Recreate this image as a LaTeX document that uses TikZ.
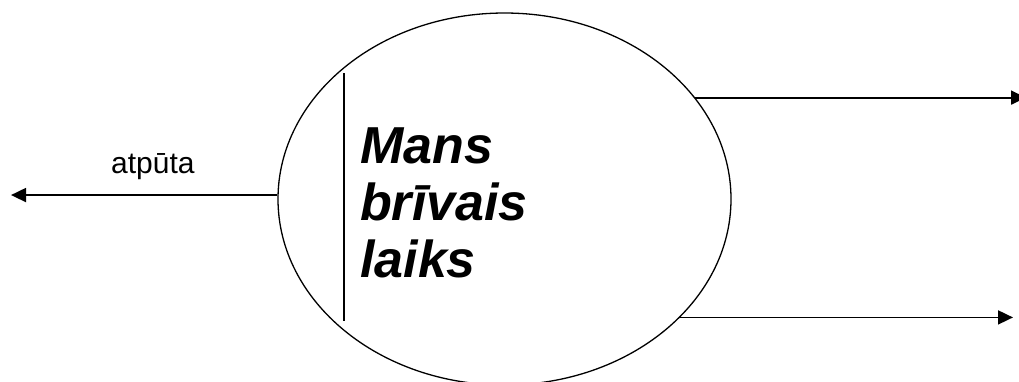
\documentclass[tikz,border=0pt]{standalone}
\usepackage{fontspec}
\setmainfont{Liberation Sans}
\usetikzlibrary{shapes.geometric,arrows.meta}
\tikzset{
  proc/.style={draw=black, line width=1.3pt, ellipse, minimum width=453pt, minimum height=372pt, inner sep=0pt},
  flow/.style={draw=black, line width=1.8pt, -{Triangle[length=15pt,width=14pt]}},
  bigtext/.style={anchor=base west, inner sep=0pt, font=\fontsize{52}{57}\selectfont\bfseries\itshape},
  label/.style={anchor=base west, inner sep=0pt, font=\fontsize{30}{34}\selectfont},
}
\begin{document}
\begin{tikzpicture}[x=1pt,y=-1pt]
\useasboundingbox[fill=white] (0,0) rectangle (1019,381);
\node[proc] (e) at (504.5,199) {};
\coordinate (lt) at (11,195);
\coordinate (rt1) at (1026,97);
\coordinate (rt2) at (1013,319);
\draw[flow] (e.179) -- (e.179 -| lt);
\draw[flow] (e.28.3) -- (e.28.3 -| rt1);
\draw[flow] (e.-34.7) -- (e.-34.7 -| rt2);
\coordinate (v1) at (343.5,73);
\coordinate (v2) at (343.5,321);
\draw[line width=2pt] (v1) -- (v2);
\node[bigtext] (t1) at (360,163) {Mans};
\node[bigtext] (t2) at (360,220) {brīvais};
\node[bigtext] (t3) at (360,277) {laiks};
\node[label] (lab) at (111,173) {atpūta};
\end{tikzpicture}
\end{document}
